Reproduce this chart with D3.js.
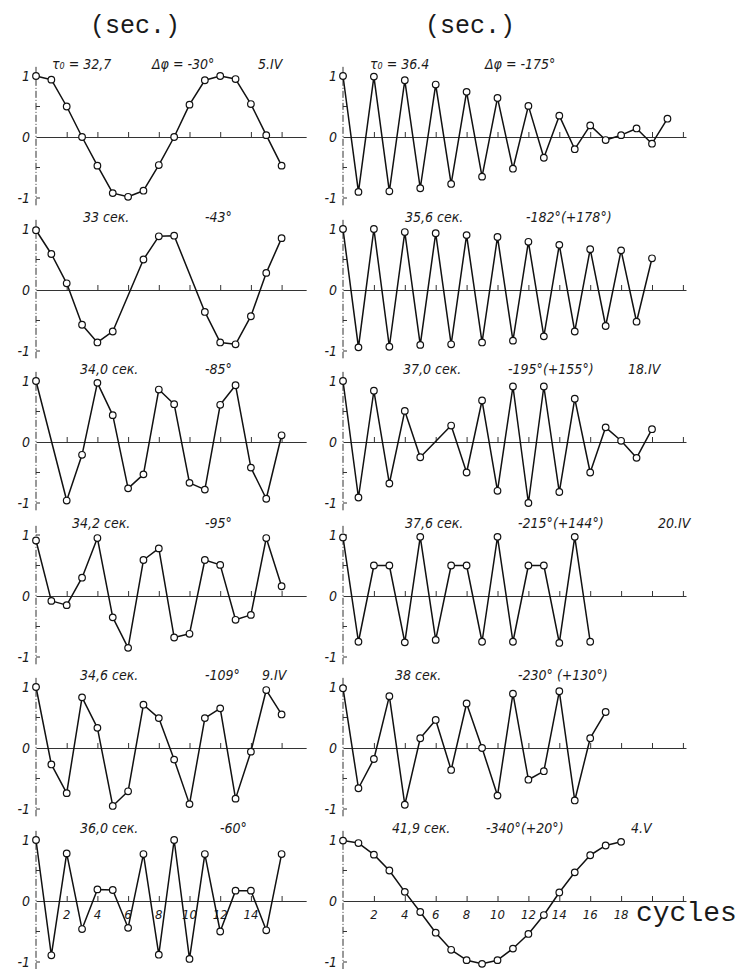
<!DOCTYPE html>
<html>
<head>
<meta charset="utf-8">
<script src="https://cdn.jsdelivr.net/npm/d3@7"></script>
<style>
  body { margin: 0; background: #fff; }
  svg { display: block; }
  .ttl { font-family: "DejaVu Sans Condensed", "DejaVu Sans", sans-serif; font-style: italic; font-size: 14px; fill: #1a1a1a; }
  .ylab { font-family: "DejaVu Sans Condensed", "DejaVu Sans", sans-serif; font-style: italic; font-size: 14px; fill: #1a1a1a; }
  .xlab { font-family: "DejaVu Sans Condensed", "DejaVu Sans", sans-serif; font-style: italic; font-size: 13px; fill: #1a1a1a; }
  .mono { font-family: "Liberation Mono", "DejaVu Sans Mono", monospace; fill: #1a1a1a; }
</style>
</head>
<body>
<div id="chart"></div>
<script>
// normalised amplitude read at each whole cycle (null = no point drawn there)
const valsL1 = [1.0, 0.94, 0.50, 0.0, -0.47, -0.92, -0.98, -0.88, -0.46, 0.0, 0.53, 0.93, 1.0, 0.95, 0.54, 0.03, -0.47];
const valsL2 = [0.98, 0.59, 0.11, -0.57, -0.86, -0.68, null, 0.50, 0.88, 0.89, null, -0.36, -0.86, -0.89, -0.43, 0.28, 0.85];
const valsL3 = [1.0, null, -0.96, -0.21, 0.97, 0.44, -0.76, -0.53, 0.86, 0.62, -0.67, -0.78, 0.61, 0.93, -0.42, -0.93, 0.11];
const valsL4 = [0.91, -0.08, -0.15, 0.30, 0.95, -0.35, -0.85, 0.59, 0.78, -0.68, -0.62, 0.59, 0.51, -0.39, -0.31, 0.95, 0.16];
const valsL5 = [1.0, -0.27, -0.74, 0.83, 0.33, -0.95, -0.71, 0.71, 0.49, -0.19, -0.92, 0.49, 0.65, -0.83, -0.06, 0.95, 0.55];
const valsL6 = [1.0, -0.89, 0.78, -0.46, 0.19, 0.18, -0.44, 0.77, -0.88, 1.0, -0.95, 0.77, -0.50, 0.17, 0.17, -0.48, 0.77];

const valsR1 = [1.0, -0.90, 0.99, -0.89, 0.93, -0.84, 0.86, -0.77, 0.74, -0.65, 0.64, -0.52, 0.51, -0.34, 0.35, -0.20, 0.19, -0.05, 0.03, 0.14, -0.11, 0.30];
const valsR2 = [1.0, -0.94, 1.0, -0.93, 0.95, -0.90, 0.93, -0.89, 0.90, -0.86, 0.87, -0.83, 0.79, -0.76, 0.74, -0.68, 0.67, -0.59, 0.65, -0.52, 0.52];
const valsR3 = [1.0, -0.91, 0.84, -0.68, 0.51, -0.25, null, 0.27, -0.50, 0.68, -0.80, 0.91, -1.0, 0.91, -0.82, 0.71, -0.50, 0.24, 0.02, -0.26, 0.21];
const valsR4 = [0.96, -0.75, 0.50, 0.50, -0.76, 0.97, -0.72, 0.50, 0.50, -0.75, 0.97, -0.75, 0.50, 0.50, -0.77, 0.97, -0.75];
const valsR5 = [0.98, -0.66, -0.18, 0.85, -0.93, 0.16, 0.46, -0.36, 0.73, 0.0, -0.78, 0.89, -0.52, -0.38, 0.93, -0.86, 0.16, 0.59];
const valsR6 = [0.99, 0.95, 0.76, 0.50, 0.15, -0.18, -0.52, -0.80, -0.97, -1.03, -0.97, -0.78, -0.54, -0.23, 0.14, 0.47, 0.75, 0.91, 0.97];

// panel captions
const periodsL = ["τ₀ = 32,7", "33 сек.", "34,0 сек.", "34,2 сек.", "34,6 сек.", "36,0 сек."];
const periodsR = ["τ₀ = 36.4", "35,6 сек.", "37,0 сек.", "37,6 сек.", "38 сек.", "41,9 сек."];
const phasesL = ["Δφ = -30°", "-43°", "-85°", "-95°", "-109°", "-60°"];
const phasesR = ["Δφ = -175°", "-182°(+178°)", "-195°(+155°)", "-215°(+144°)", "-230° (+130°)", "-340°(+20°)"];
const datesL = ["5.IV", "", "", "", "9.IV", ""];
const datesR = ["", "", "18.IV", "20.IV", "", "4.V"];

const leftTicks = [2, 4, 6, 8, 10, 12, 14, 16];
const rightTicks = [2, 4, 6, 8, 10, 12, 14, 16, 18, 20, 22];
const leftTickLabels = [2, 4, 6, 8, 10, 12, 14];
const rightTickLabels = [2, 4, 6, 8, 10, 12, 14, 16, 18];
const yTicks = [-1, -0.5, 0.5, 1];

// layout
const width = 744, height = 969;
const rowZero = [137, 290, 442, 596, 748, 901];
const amp = 61;

// caption x positions per panel [period, phase, date]
const capL = [[52, 152, 258], [83, 205, 0], [80, 205, 0], [72, 205, 0], [80, 205, 262], [80, 220, 0]];
const capR = [[370, 485, 0], [405, 526, 0], [403, 508, 628], [405, 518, 658], [395, 518, 0], [392, 486, 631]];

const svg = d3.select("#chart").append("svg")
    .attr("width", width)
    .attr("height", height);

// column x scales (cycles -> px)
const xL = d3.scaleLinear().domain([0, 17.6]).range([36, 36 + 17.6 * 15.35]);
const xR = d3.scaleLinear().domain([0, 22.2]).range([343, 343 + 22.2 * 15.45]);

const colL = { x: xL, ticks: leftTicks, vals: [valsL1, valsL2, valsL3, valsL4, valsL5, valsL6],
    periods: periodsL, phases: phasesL, dates: datesL, cap: capL, labels: leftTickLabels };
const colR = { x: xR, ticks: rightTicks, vals: [valsR1, valsR2, valsR3, valsR4, valsR5, valsR6],
    periods: periodsR, phases: phasesR, dates: datesR, cap: capR, labels: rightTickLabels };

// column headers
svg.append("text").attr("class", "mono").attr("x", 135).attr("y", 33)
    .attr("text-anchor", "middle").style("font-size", "25px").text("(sec.)");
svg.append("text").attr("class", "mono").attr("x", 470).attr("y", 33)
    .attr("text-anchor", "middle").style("font-size", "25px").text("(sec.)");

function drawPanel(col, row) {
    const x = col.x;
    const z = rowZero[row];
    const y = d3.scaleLinear().domain([-1, 1]).range([z + amp, z - amp]);
    const g = svg.append("g");
    const x0 = x(0);

    // vertical axis, dash-dot
    g.append("line")
        .attr("x1", x0).attr("x2", x0)
        .attr("y1", y(1.15)).attr("y2", y(-1.12))
        .attr("stroke", "#333").attr("stroke-width", 1)
        .attr("stroke-dasharray", "7,2,1,2");

    g.selectAll(".yt").data(yTicks).enter().append("line")
        .attr("x1", x0).attr("x2", x0 + 4)
        .attr("y1", d => y(d)).attr("y2", d => y(d))
        .attr("stroke", "#333").attr("stroke-width", 1);

    g.selectAll(".yl").data([1, 0, -1]).enter().append("text")
        .attr("class", "ylab")
        .attr("x", x0 - 6)
        .attr("y", d => y(d) + 5)
        .attr("text-anchor", "end")
        .text(d => d === -1 ? "-1" : d);

    // zero line with small upward ticks
    const axis = d3.axisTop(x).tickValues(col.ticks).tickSize(5).tickFormat("").tickSizeOuter(0);
    const ax = g.append("g").attr("transform", `translate(0,${z})`).call(axis);
    ax.select(".domain").attr("stroke", "#333").attr("stroke-width", 1.1);
    ax.selectAll(".tick line").attr("stroke", "#333");

    if (row === 5) {
        g.selectAll(".xl").data(col.labels).enter().append("text")
            .attr("class", "xlab")
            .attr("x", d => x(d))
            .attr("y", z + 18)
            .attr("text-anchor", "middle")
            .text(d => d);
    }

    // series
    const pts = col.vals[row].map((v, i) => [i, v]).filter(d => d[1] !== null);
    const line = d3.line().x(d => x(d[0])).y(d => y(d[1]));
    g.append("path")
        .attr("d", line(pts))
        .attr("fill", "none")
        .attr("stroke", "#111")
        .attr("stroke-width", 1.5)
        .attr("stroke-linejoin", "round");

    g.selectAll("circle").data(pts).enter().append("circle")
        .attr("cx", d => x(d[0]))
        .attr("cy", d => y(d[1]))
        .attr("r", 3.3)
        .attr("fill", "#fff")
        .attr("stroke", "#111")
        .attr("stroke-width", 1.2);

    // captions
    const cy = z - 68;
    const c = col.cap[row];
    g.append("text").attr("class", "ttl").attr("x", c[0]).attr("y", cy).text(col.periods[row]);
    g.append("text").attr("class", "ttl").attr("x", c[1]).attr("y", cy).text(col.phases[row]);
    if (col.dates[row]) {
        g.append("text").attr("class", "ttl").attr("x", c[2]).attr("y", cy).text(col.dates[row]);
    }
}

for (let r = 0; r < 6; r++) {
    drawPanel(colL, r);
    drawPanel(colR, r);
}

svg.append("text").attr("class", "mono")
    .attr("x", 636).attr("y", 921)
    .style("font-size", "28px")
    .text("cycles");
</script>
</body>
</html>
